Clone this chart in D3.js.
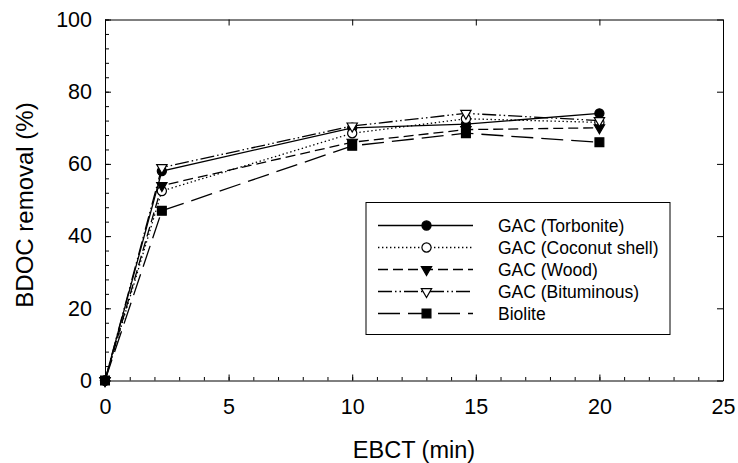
<!DOCTYPE html>
<html lang="en">
<head>
<meta charset="UTF-8">
<title>BDOC removal vs EBCT</title>
<script src="https://cdnjs.cloudflare.com/ajax/libs/d3/7.8.5/d3.min.js"></script>
<style>
    body { margin: 0; background: #fff; }
    svg { display: block; font-family: "Liberation Sans", Arial, sans-serif; }
    .axis path, .axis line { stroke: #000; stroke-width: 1px; }
    .axis text { fill: #000; font-size: 21.5px; }
</style>
</head>
<body>
<div id="chart"></div>
<script>
    // data
    const ebct = [0, 2.3, 10, 14.6, 20];
    const torbonite = [0, 58, 70, 71, 74];
    const coconut = [0, 52.5, 68.5, 72.5, 71.5];
    const wood = [0, 54, 66, 69.5, 70];
    const bituminous = [0, 59, 70.5, 74, 72];
    const biolite = [0, 47, 65, 68.5, 66];

    const xTicks = [0, 5, 10, 15, 20, 25];
    const yTicks = [0, 20, 40, 60, 80, 100];

    const series = [
        { name: "GAC (Torbonite)", values: torbonite, dash: null, symbol: d3.symbolCircle, size: 66, fill: "#000", rot: 0 },
        { name: "GAC (Coconut shell)", values: coconut, dash: "1.4,2.6", symbol: d3.symbolCircle, size: 66, fill: "#fff", rot: 0 },
        { name: "GAC (Wood)", values: wood, dash: "10,5", symbol: d3.symbolTriangle, size: 46, fill: "#000", rot: 180 },
        { name: "GAC (Bituminous)", values: bituminous, dash: "14,3,1.5,3,1.5,3", symbol: d3.symbolTriangle, size: 46, fill: "#fff", rot: 180 },
        { name: "Biolite", values: biolite, dash: "22,8", symbol: d3.symbolSquare, size: 78, fill: "#000", rot: 0 }
    ];

    const width = 738, height = 463;
    const plot = { left: 105, right: 723, top: 19.5, bottom: 380.5 };

    const svg = d3.select("#chart").append("svg")
        .attr("width", width)
        .attr("height", height);

    const x = d3.scaleLinear().domain([0, 25]).range([plot.left, plot.right]);
    const y = d3.scaleLinear().domain([0, 100]).range([plot.bottom, plot.top]);

    // minor ticks
    svg.append("g").attr("class", "axis")
        .attr("transform", `translate(0,${plot.bottom})`)
        .call(d3.axisBottom(x).tickValues(d3.range(0, 26, 1)).tickSize(-3.5).tickFormat(""))
        .select(".domain").remove();
    svg.append("g").attr("class", "axis")
        .attr("transform", `translate(${plot.left},0)`)
        .call(d3.axisLeft(y).tickValues(d3.range(0, 101, 4)).tickSize(-4).tickFormat(""))
        .select(".domain").remove();

    // major ticks with labels
    svg.append("g").attr("class", "axis")
        .attr("transform", `translate(0,${plot.bottom})`)
        .call(d3.axisBottom(x).tickValues(xTicks).tickSize(-6).tickPadding(18).tickSizeOuter(0));
    svg.append("g").attr("class", "axis")
        .attr("transform", `translate(${plot.left},0)`)
        .call(d3.axisLeft(y).tickValues(yTicks).tickSize(-6).tickPadding(13).tickSizeOuter(0));
    svg.append("g").attr("class", "axis")
        .attr("transform", `translate(0,${plot.top})`)
        .call(d3.axisTop(x).tickValues(xTicks).tickSize(-6).tickFormat("").tickSizeOuter(0));
    svg.append("g").attr("class", "axis")
        .attr("transform", `translate(${plot.right},0)`)
        .call(d3.axisRight(y).tickValues(yTicks).tickSize(-6).tickFormat("").tickSizeOuter(0));

    // axis titles
    svg.append("text")
        .attr("x", (plot.left + plot.right) / 2)
        .attr("y", 457.5)
        .attr("text-anchor", "middle")
        .style("font-size", "23.5px")
        .text("EBCT (min)");
    svg.append("text")
        .attr("transform", `translate(32.5,205) rotate(-90)`)
        .attr("text-anchor", "middle")
        .style("font-size", "24px")
        .text("BDOC removal (%)");

    const line = d3.line()
        .x((d, i) => x(ebct[i]))
        .y(d => y(d));

    series.forEach(s => {
        svg.append("path")
            .attr("d", line(s.values))
            .attr("fill", "none")
            .attr("stroke", "#000")
            .attr("stroke-width", 1.3)
            .attr("stroke-dasharray", s.dash);
    });

    series.forEach(s => {
        svg.selectAll(null)
            .data(s.values)
            .enter()
            .append("path")
            .attr("d", d3.symbol().type(s.symbol).size(s.size))
            .attr("transform", (d, i) => `translate(${x(ebct[i])},${y(d)}) rotate(${s.rot})`)
            .attr("fill", s.fill)
            .attr("stroke", "#000")
            .attr("stroke-width", 1.2);
    });

    // legend
    const legend = svg.append("g");
    legend.append("rect")
        .attr("x", 366).attr("y", 202.5)
        .attr("width", 304).attr("height", 132)
        .attr("fill", "#fff")
        .attr("stroke", "#000")
        .attr("stroke-width", 1);

    series.forEach((s, i) => {
        const ly = 225.5 + i * 22;
        legend.append("line")
            .attr("x1", 378).attr("x2", 473)
            .attr("y1", ly).attr("y2", ly)
            .attr("stroke", "#000")
            .attr("stroke-width", 1.3)
            .attr("stroke-dasharray", s.dash);
        legend.append("path")
            .attr("d", d3.symbol().type(s.symbol).size(s.size))
            .attr("transform", `translate(426.5,${ly}) rotate(${s.rot})`)
            .attr("fill", s.fill)
            .attr("stroke", "#000")
            .attr("stroke-width", 1.2);
        legend.append("text")
            .attr("x", 498)
            .attr("y", ly)
            .attr("dy", "0.35em")
            .style("font-size", "17.5px")
            .text(s.name);
    });
</script>
</body>
</html>
